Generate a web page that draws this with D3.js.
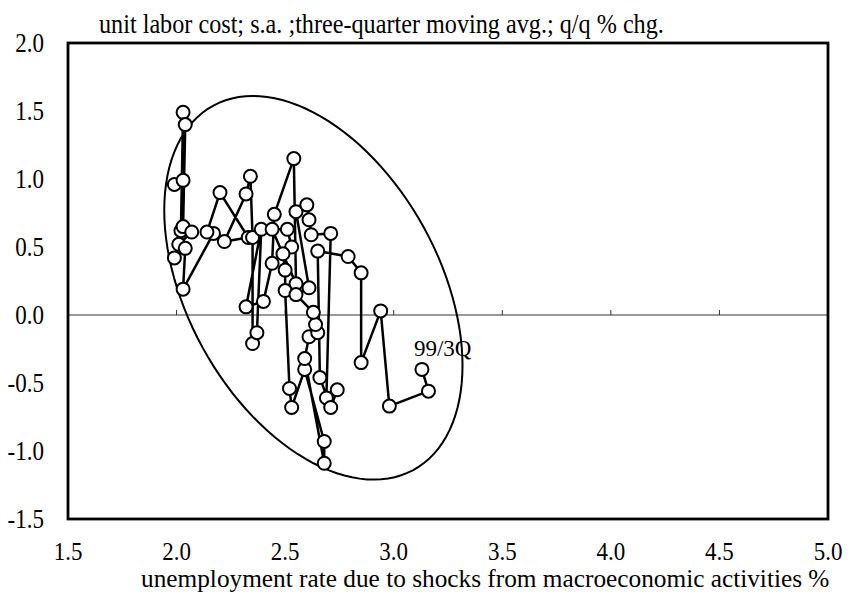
<!DOCTYPE html>
<html>
<head>
<meta charset="utf-8">
<script src="https://cdn.jsdelivr.net/npm/d3@7"></script>
<style>
body { margin: 0; background: #fff; }
text { font-family: "Liberation Serif", "Times New Roman", serif; fill: #000; }
</style>
</head>
<body>
<svg width="852" height="594"></svg>
<script>
// unemployment rate due to macro shocks (%), in time order, last point = 99/3Q
var unemp = [1.99, 2.03, 2.02, 2.03, 2.04, 2.03, 2.07, 2.01, 1.99, 2.04,
  2.03, 2.17, 2.14, 2.20, 2.33, 2.22, 2.32, 2.34, 2.35, 2.35,
  2.37, 2.39, 2.32, 2.40, 2.44, 2.45, 2.54, 2.55, 2.44, 2.51,
  2.53, 2.49, 2.50, 2.50, 2.52, 2.53, 2.59, 2.68, 2.68, 2.59,
  2.61, 2.65, 2.64, 2.63, 2.55, 2.61, 2.55, 2.60, 2.61, 2.62,
  2.71, 2.69, 2.74, 2.71, 2.66, 2.65, 2.79, 2.85, 2.85, 2.94,
  2.98, 3.16, 3.13];
// unit labor cost, 3-quarter moving avg, q/q % chg
var ulc = [0.96, 0.99, 0.62, 1.49, 1.40, 0.65, 0.61, 0.52, 0.42, 0.49,
  0.19, 0.60, 0.61, 0.90, 0.57, 0.54, 0.89, 1.02, 0.57, -0.21,
  -0.13, 0.63, 0.06, 0.10, 0.38, 0.74, 1.15, 0.23, 0.63, 0.63,
  0.50, 0.45, 0.33, 0.18, -0.54, -0.68, -0.40, -0.93, -1.09, -0.32,
  -0.16, -0.13, -0.07, 0.02, 0.15, 0.20, 0.76, 0.81, 0.70, 0.59,
  0.60, -0.61, -0.55, -0.68, -0.46, 0.47, 0.43, 0.31, -0.35, 0.03,
  -0.67, -0.56, -0.40];
var xTicks = [1.5, 2.0, 2.5, 3.0, 3.5, 4.0, 4.5, 5.0];
var yTicks = [2.0, 1.5, 1.0, 0.5, 0.0, -0.5, -1.0, -1.5];
var zeroTicks = [2.0, 2.5, 3.0, 3.5, 4.0, 4.5];
var lastLabel = "99/3Q";
var yTitle = "unit labor cost; s.a. ;three-quarter moving avg.; q/q % chg.";
var xTitle = "unemployment rate due to shocks from macroeconomic activities %";
// ellipse: centre and two conjugate semi-axes, in data units
var ellipseCenter = [2.63, 0.20];
var ellipseAxisA = [0.46, -1.34];
var ellipseAxisB = [-0.51, -0.44];

var svg = d3.select("svg"),
  marginLeft = 68, marginTop = 43,
  width = 760, height = 476;

var x = d3.scaleLinear().domain([1.5, 5.0]).range([0, width]),
  y = d3.scaleLinear().domain([-1.5, 2.0]).range([height, 0]);

var g = svg.append("g").attr("transform", "translate(" + marginLeft + "," + marginTop + ")");

// text in the original is a bit taller than wide
function tall(sel, tx, ty, k) {
  return sel.attr("transform", "translate(" + tx + "," + ty + ") scale(1," + k + ")");
}

// zero line with small ticks
g.append("line")
  .attr("x1", 0).attr("x2", width)
  .attr("y1", y(0)).attr("y2", y(0))
  .attr("stroke", "#333").attr("stroke-width", 1);

g.selectAll(".zt")
  .data(zeroTicks)
  .enter()
  .append("line")
  .attr("class", "zt")
  .attr("x1", function (d) { return x(d); })
  .attr("x2", function (d) { return x(d); })
  .attr("y1", y(0)).attr("y2", y(0) - 5)
  .attr("stroke", "#333").attr("stroke-width", 1);

// ellipse
var ePts = d3.range(0, 121).map(function (i) {
  var t = i / 120 * 2 * Math.PI;
  return [ellipseCenter[0] + ellipseAxisA[0] * Math.cos(t) + ellipseAxisB[0] * Math.sin(t),
    ellipseCenter[1] + ellipseAxisA[1] * Math.cos(t) + ellipseAxisB[1] * Math.sin(t)];
});
g.append("path")
  .attr("d", d3.line().x(function (d) { return x(d[0]); }).y(function (d) { return y(d[1]); })(ePts))
  .attr("fill", "none")
  .attr("stroke", "#000")
  .attr("stroke-width", 2);

// data path
var data = unemp.map(function (d, i) { return { u: d, c: ulc[i] }; });

g.append("path")
  .datum(data)
  .attr("fill", "none")
  .attr("stroke", "#000")
  .attr("stroke-width", 2.5)
  .attr("stroke-linejoin", "round")
  .attr("d", d3.line()
    .x(function (d) { return x(d.u); })
    .y(function (d) { return y(d.c); }));

g.selectAll(".dot")
  .data(data)
  .enter()
  .append("circle")
  .attr("class", "dot")
  .attr("cx", function (d) { return x(d.u); })
  .attr("cy", function (d) { return y(d.c); })
  .attr("r", 6.5)
  .attr("fill", "#fff")
  .attr("stroke", "#000")
  .attr("stroke-width", 2);

var last = data[data.length - 1];
g.append("text")
  .attr("x", x(last.u) - 8)
  .attr("y", y(last.c) - 13)
  .attr("font-size", "23px")
  .text(lastLabel);

// frame
g.append("rect")
  .attr("width", width)
  .attr("height", height)
  .attr("fill", "none")
  .attr("stroke", "#000")
  .attr("stroke-width", 2.8);

// tick labels
g.selectAll(".xl")
  .data(xTicks)
  .enter()
  .append("text")
  .attr("class", "xl")
  .attr("text-anchor", "middle")
  .attr("font-size", "23px")
  .each(function (d) { tall(d3.select(this), x(d), height + 41, 1.12); })
  .text(function (d) { return d.toFixed(1); });

g.selectAll(".yl")
  .data(yTicks)
  .enter()
  .append("text")
  .attr("class", "yl")
  .attr("text-anchor", "end")
  .attr("font-size", "23px")
  .each(function (d) { tall(d3.select(this), -24, y(d) + 9, 1.15); })
  .text(function (d) { return d.toFixed(1); });

tall(svg.append("text"), 99, 33, 1.15)
  .attr("font-size", "24.2px")
  .text(yTitle);

tall(svg.append("text"), 141, 587, 1)
  .attr("font-size", "25.3px")
  .text(xTitle);
</script>
</body>
</html>
